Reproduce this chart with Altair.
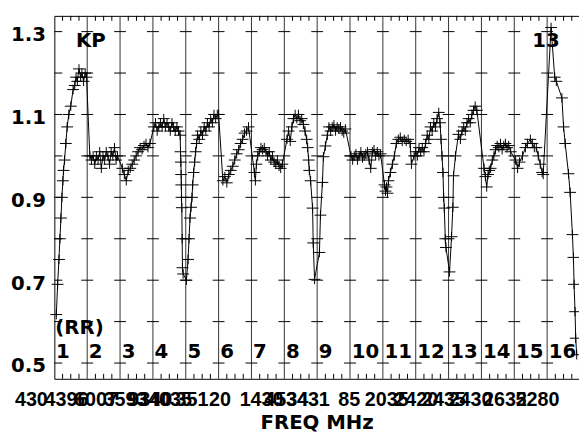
import altair as alt
import pandas as pd

# Spectrum: position along the channel axis (100 units per channel) and line ratio
spec_pos = [
    # ch 1
    6, 10, 14, 17, 20, 23, 26, 28, 31, 35, 39, 44, 50, 57, 62, 66, 70, 75, 80, 84, 89, 94, 98,
    # ch 2
    108, 113, 118, 123, 128, 133, 138, 143, 148, 153, 158, 163, 168, 173, 178, 183, 188, 192,
    # ch 3
    207, 213, 219, 225, 231, 237, 243, 249, 255, 261, 267, 273, 279, 285, 291,
    # ch 4
    303, 308, 313, 318, 323, 328, 333, 338, 343, 348, 353, 358, 363, 368, 373, 378,
    383, 384, 385, 386, 386.5, 387, 388, 389, 390, 392,
    # ch 5
    402, 407, 410, 413, 416, 419, 421, 424, 427, 430, 433, 436,
    441, 446, 451, 456, 461, 466, 471, 476, 481, 486, 491, 496, 500,
    # ch 6
    513, 519, 525, 531, 537, 543, 549, 555, 561, 567, 573, 579, 585, 591,
    # ch 7
    609, 612, 615, 619, 624, 629, 634, 639, 644, 649, 654, 659, 664, 669, 674, 679, 684, 689, 694,
    # ch 8
    708, 713, 718, 723, 728, 733, 738, 743, 748, 753, 758, 763, 768, 771, 774, 776, 780, 786, 788, 792,
    # ch 9
    807, 810, 816, 819, 825, 831, 836, 841, 846, 851, 856, 861, 866, 871, 876, 881, 886,
    # ch 10
    903, 908, 913, 918, 923, 928, 933, 938, 943, 948, 953, 958, 963, 968, 973, 978, 983, 988, 993,
    # ch 11
    1005, 1008, 1011, 1014, 1017, 1023, 1029, 1035, 1041, 1047, 1053, 1059, 1065, 1071, 1077, 1083, 1087,
    # ch 12
    1095, 1100, 1105, 1110, 1115, 1120, 1125, 1130, 1135, 1140, 1145, 1150, 1155, 1160, 1165, 1170,
    1174, 1177, 1180, 1183, 1185, 1187, 1190, 1192, 1203,
    # ch 13
    1209, 1213, 1215, 1221, 1230, 1236, 1241, 1246, 1251, 1256, 1261, 1266, 1271, 1276, 1281, 1286,
    # ch 14
    1308, 1312, 1316, 1320, 1324, 1328, 1333, 1338, 1343, 1348, 1353, 1358, 1363, 1368, 1373, 1378, 1383, 1389,
    # ch 15
    1404, 1410, 1416, 1425, 1434, 1440, 1449, 1455, 1461, 1467, 1473, 1479, 1485, 1488,
    # ch 16
    1512, 1523, 1528, 1545, 1550, 1555, 1565, 1570, 1577, 1580, 1582, 1585, 1587, 1590,
]
spec_val = [
    # ch 1
    0.617, 0.69, 0.75, 0.80, 0.85, 0.90, 0.94, 0.965, 0.99, 1.03, 1.07, 1.10, 1.12, 1.16, 1.17, 1.19,
    1.18, 1.21, 1.19, 1.20, 1.18, 1.20, 1.19,
    # ch 2
    1.00, 0.99, 1.00, 0.98, 1.00, 0.99, 1.01, 0.97, 1.00, 0.99, 1.01, 1.00, 0.98, 1.01, 1.00, 1.02, 0.99, 1.00,
    # ch 3
    0.97, 0.955, 0.94, 0.965, 0.97, 0.98, 0.99, 1.00, 1.01, 1.02, 1.015, 1.025, 1.03, 1.02, 1.03,
    # ch 4
    1.07, 1.08, 1.06, 1.07, 1.08, 1.07, 1.09, 1.07, 1.08, 1.07, 1.06, 1.08, 1.07, 1.06, 1.07, 1.06,
    1.05, 1.01, 0.985, 0.955, 0.93, 0.90, 0.875, 0.80, 0.73, 0.715,
    # ch 5
    0.70, 0.75, 0.80, 0.85, 0.876, 0.90, 0.93, 0.96, 0.985, 1.01, 1.03, 1.05,
    1.04, 1.06, 1.05, 1.07, 1.06, 1.08, 1.07, 1.09, 1.08, 1.10, 1.09, 1.10, 1.10,
    # ch 6
    0.94, 0.95, 0.935, 0.955, 0.965, 0.975, 0.99, 1.005, 1.015, 1.03, 1.04, 1.055, 1.06, 1.07,
    # ch 7
    0.96, 0.94, 0.98, 1.00, 1.01, 1.02, 1.015, 1.02, 1.01, 1.00, 1.01, 0.99, 1.00, 0.985, 0.98, 0.99, 0.975, 0.97, 0.98,
    # ch 8
    1.04, 1.06, 1.035, 1.07, 1.09, 1.10, 1.09, 1.10, 1.085, 1.09, 1.076, 1.06, 1.04, 1.02, 0.99, 0.965, 0.94, 0.874, 0.79, 0.702,
    # ch 9
    0.767, 0.857, 0.936, 0.998, 1.024, 1.05, 1.07, 1.06, 1.07, 1.075, 1.06, 1.07, 1.065, 1.07, 1.06, 1.055, 1.065,
    # ch 10
    1.00, 0.99, 1.00, 1.005, 0.99, 1.00, 1.01, 0.995, 1.00, 1.005, 1.01, 0.99, 0.97, 1.01, 1.015, 1.00, 1.01, 1.00, 1.005,
    # ch 11
    0.93, 0.915, 0.925, 0.91, 0.94, 0.96, 0.98, 1.00, 1.03, 1.04, 1.045, 1.035, 1.04, 1.035, 1.04, 1.03, 0.98,
    # ch 12
    1.00, 1.01, 1.00, 1.02, 1.01, 1.02, 1.01, 1.03, 1.05, 1.04, 1.07, 1.06, 1.08, 1.07, 1.09, 1.105,
    1.08, 1.04, 1.00, 0.96, 0.90, 0.874, 0.80, 0.779, 0.72,
    # ch 13
    0.805, 0.876, 0.952, 1.00, 1.052, 1.04, 1.06, 1.07, 1.06, 1.08, 1.09, 1.08, 1.10, 1.11, 1.12, 1.11,
    # ch 14
    0.97, 0.95, 0.925, 0.955, 0.965, 0.97, 0.99, 1.00, 1.015, 1.025, 1.02, 1.03, 1.015, 1.025, 1.03, 1.02, 1.025, 1.01,
    # ch 15
    0.99, 0.97, 0.985, 1.00, 1.02, 1.03, 1.04, 1.03, 1.02, 1.02, 1.00, 0.98, 0.96, 0.955,
    # ch 16
    1.31, 1.19, 1.18, 1.14, 1.07, 1.03, 0.957, 0.912, 0.81, 0.755, 0.69, 0.624, 0.56, 0.52,
]

channel_names = ["1", "2", "3", "4", "5", "6", "7", "8", "9", "10", "11", "12", "13", "14", "15", "16"]
channel_start = [0, 100, 200, 300, 400, 500, 600, 700, 800, 900, 1000, 1100, 1200, 1300, 1400, 1500]
divider_pos = [100, 200, 300, 400, 500, 600, 700, 800, 900, 1000, 1100, 1200, 1300, 1400, 1500]
ratio_ticks = [0.5, 0.6, 0.7, 0.8, 0.9, 1.0, 1.1, 1.2, 1.3]
ratio_labels = [0.5, 0.7, 0.9, 1.1, 1.3]
minor_quarters = [25, 50, 75]

freq_text = ["430", "4396", "6007", "3593", "9340", "4035", "351", "20", "1430", "4534", "3431",
             "85", "2035", "2420", "2435", "2430", "2632", "5280"]
freq_pos = [-120, -30, 60, 150, 225, 285, 369, 471, 564, 639, 705, 864, 945, 1035, 1119, 1200, 1305, 1404]

note_text = ["KP", "13", "(RR)"]
note_pos = [66, 1455, 3]
note_val = [1.262, 1.262, 0.569]

XMIN, XMAX = 0, 1597
YMIN, YMAX = 0.462, 1.338
FONT = "DejaVu Sans"

xscale = alt.Scale(domain=[XMIN, XMAX], nice=False, zero=False)
yscale = alt.Scale(domain=[YMIN, YMAX], nice=False, zero=False)
xaxis = alt.Axis(labels=False, ticks=False, domain=False, grid=False, title="FREQ MHz",
                 titleFont=FONT, titleFontSize=20, titleFontWeight="bold", titleColor="black",
                 titlePadding=50, titleBaseline="alphabetic")
yaxis = alt.Axis(values=ratio_labels, format=".1f", ticks=False, domain=False, grid=False, title=None,
                 labelFont=FONT, labelFontSize=20, labelFontWeight="bold", labelColor="black",
                 labelPadding=9, labelOffset=3)


def X(field):
    return alt.X(field, type="quantitative", scale=xscale, axis=xaxis)


def Y(field):
    return alt.Y(field, type="quantitative", scale=yscale, axis=yaxis)


spec = pd.DataFrame({"pos": spec_pos, "val": spec_val})

line = alt.Chart(spec).mark_line(color="black", strokeWidth=1).encode(x=X("pos"), y=Y("val"))
crosses = alt.Chart(spec).mark_point(
    shape="M-1,0L1,0M0,-0.8L0,0.8", size=144, filled=False, stroke="black", strokeWidth=1, opacity=1
).encode(x=X("pos"), y=Y("val"))

div_df = pd.DataFrame({"pos": divider_pos})
dividers = alt.Chart(div_df).mark_rule(color="#333333", strokeWidth=1).encode(x=X("pos"))

div_ticks_df = pd.DataFrame([{"pos": p, "val": v} for p in divider_pos for v in ratio_ticks])
div_ticks = alt.Chart(div_ticks_df).mark_point(
    shape="M-1,0L1,0", size=144, filled=False, stroke="black", strokeWidth=1, opacity=1
).encode(x=X("pos"), y=Y("val"))

left_ticks_df = pd.DataFrame({"pos": [XMIN] * len(ratio_ticks), "val": ratio_ticks})
left_ticks = alt.Chart(left_ticks_df).mark_point(
    shape="M0,0L1,0", size=256, filled=False, stroke="black", strokeWidth=1, opacity=1
).encode(x=X("pos"), y=Y("val"))

minor_pos = [s + q for s in channel_start for q in minor_quarters]
top_df = pd.DataFrame({"pos": minor_pos, "val": [YMAX] * len(minor_pos)})
top_ticks = alt.Chart(top_df).mark_point(
    shape="M0,0L0,1", size=100, filled=False, stroke="black", strokeWidth=1, opacity=1
).encode(x=X("pos"), y=Y("val"))
bot_df = pd.DataFrame({"pos": minor_pos, "val": [YMIN] * len(minor_pos)})
bot_ticks = alt.Chart(bot_df).mark_point(
    shape="M0,-1L0,0", size=100, filled=False, stroke="black", strokeWidth=1, opacity=1
).encode(x=X("pos"), y=Y("val"))

num_df = pd.DataFrame({"pos": [s + 5 for s in channel_start], "val": [0.512] * 16, "txt": channel_names})
numbers = alt.Chart(num_df).mark_text(
    align="left", baseline="alphabetic", font=FONT, fontSize=20, fontWeight="bold", color="black"
).encode(x=X("pos"), y=Y("val"), text="txt:N")

note_df = pd.DataFrame({"pos": note_pos, "val": note_val, "txt": note_text})
notes = alt.Chart(note_df).mark_text(
    align="left", baseline="alphabetic", font=FONT, fontSize=20, fontWeight="bold", color="black"
).encode(x=X("pos"), y=Y("val"), text="txt:N")

freq_df = pd.DataFrame({"pos": freq_pos, "txt": freq_text})
freqs = alt.Chart(freq_df).mark_text(
    align="left", baseline="alphabetic", font="Liberation Sans",
    fontSize=20, fontWeight="bold", color="black"
).encode(x=X("pos"), y=alt.value(396), text="txt:N")

chart = alt.layer(
    dividers, div_ticks, left_ticks, top_ticks, bot_ticks, line, crosses, numbers, notes, freqs
).properties(
    width=532, height=368,
    autosize=alt.AutoSizeParams(type="none"),
    padding={"left": 47, "top": 5, "right": 0, "bottom": 53},
    background="white",
).configure_view(stroke="black", strokeWidth=1)

chart.save("out.html", embed_options={"renderer": "svg", "actions": False})
